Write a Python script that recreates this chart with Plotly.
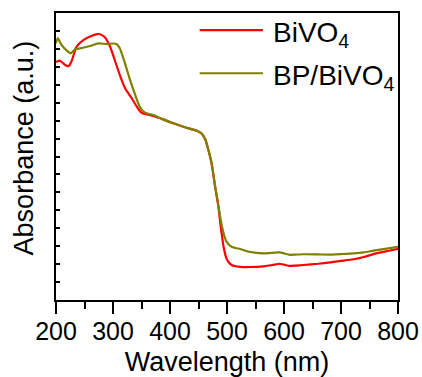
import plotly.graph_objects as go

# UV-vis diffuse reflectance spectra
wl_bivo4 = [200, 207, 216, 222, 227, 236, 248, 263, 276, 286, 295, 303, 312, 321, 333,
            342, 350, 360, 371, 388, 406, 429, 447, 455, 462, 467, 473, 479, 485, 489,
            494, 499, 504, 508, 515, 523, 540, 564, 580, 592, 600, 610, 620, 634, 660,
            681, 700, 722, 740, 757, 780, 800]
abs_bivo4 = [13.27, 13.34, 13.10, 13.04, 13.28, 14.12, 14.49, 14.73, 14.83, 14.64, 14.12,
             13.38, 12.54, 11.82, 11.24, 10.77, 10.44, 10.34, 10.26, 10.07, 9.85, 9.60,
             9.44, 9.30, 8.95, 8.40, 7.60, 6.35, 5.20, 4.10, 2.97, 2.32, 2.06, 1.95, 1.88,
             1.85, 1.84, 1.88, 1.95, 2.02, 1.97, 1.90, 1.92, 1.95, 2.02, 2.10, 2.18, 2.27,
             2.40, 2.56, 2.72, 2.85]

wl_bp = [200, 203, 210, 219, 226, 233, 242, 260, 274, 289, 300, 306, 312, 321, 330, 339,
         347, 356, 371, 388, 406, 429, 447, 455, 462, 467, 473, 479, 485, 489, 494, 499,
         508, 515, 523, 540, 564, 580, 592, 600, 610, 620, 634, 660, 681, 700, 722, 740,
         757, 780, 800]
abs_bp = [14.31, 14.60, 14.21, 13.90, 13.75, 13.97, 14.03, 14.16, 14.31, 14.27, 14.30,
          14.27, 14.03, 13.19, 12.26, 11.43, 10.77, 10.44, 10.31, 10.07, 9.85, 9.60, 9.44,
          9.30, 8.95, 8.40, 7.65, 6.38, 5.24, 4.46, 3.72, 3.25, 2.97, 2.90, 2.84, 2.68,
          2.60, 2.63, 2.66, 2.60, 2.52, 2.53, 2.55, 2.54, 2.53, 2.56, 2.60, 2.66, 2.75,
          2.86, 2.97]

x_ticks = [200, 300, 400, 500, 600, 700, 800]
series_names = ["BiVO<sub>4</sub>", "BP/BiVO<sub>4</sub>"]
series_colors = ["#ff0000", "#808000"]

FONT = "Liberation Sans, Arial, sans-serif"

fig = go.Figure()
fig.add_trace(go.Scatter(x=wl_bivo4, y=abs_bivo4, mode="lines", name=series_names[0],
                         line=dict(color=series_colors[0], width=2.2, shape="spline", smoothing=0.5),
                         showlegend=False))
fig.add_trace(go.Scatter(x=wl_bp, y=abs_bp, mode="lines", name=series_names[1],
                         line=dict(color=series_colors[1], width=2.2, shape="spline", smoothing=0.5),
                         showlegend=False))

# hand-placed legend (paper coordinates of the plotting area)
leg_y = [0.94, 0.79]
for name, color, yy in zip(series_names, series_colors, leg_y):
    fig.add_shape(type="line", xref="paper", yref="paper", x0=0.42, x1=0.605, y0=yy, y1=yy,
                  line=dict(color=color, width=2.2))
    fig.add_annotation(xref="paper", yref="paper", x=0.63, y=yy, text=name, showarrow=False,
                       xanchor="left", yanchor="middle", yshift=-4,
                       font=dict(family=FONT, size=28, color="black"))

# y-axis title
fig.add_annotation(xref="paper", yref="paper", x=-0.095, y=0.53, text="Absorbance (a.u.)",
                   textangle=-90, showarrow=False, xanchor="center", yanchor="middle",
                   font=dict(family=FONT, size=27, color="black"))

fig.update_layout(
    width=422, height=377,
    margin=dict(l=56, r=24, t=13, b=77),
    paper_bgcolor="white", plot_bgcolor="white",
    font=dict(family=FONT, color="black"),
    xaxis=dict(
        range=[200, 800], tickvals=x_ticks, ticks="outside", ticklen=12, tickwidth=2,
        tickcolor="black", showline=True, linecolor="black", linewidth=2, mirror=True,
        showgrid=False, zeroline=False, tickfont=dict(size=25), automargin=False,
        ticklabelstandoff=-4,
        minor=dict(dtick=50, ticks="outside", ticklen=7, tickwidth=2, tickcolor="black", showgrid=False),
        title=dict(text="Wavelength (nm)", font=dict(size=27), standoff=9),
    ),
    yaxis=dict(
        range=[0, 16], dtick=1, ticks="inside", ticklen=4, tickwidth=2, tickcolor="black",
        showticklabels=False, showline=True, linecolor="black", linewidth=2, mirror=True,
        showgrid=False, zeroline=False, automargin=False,
    ),
)

fig.write_html("out.html")
